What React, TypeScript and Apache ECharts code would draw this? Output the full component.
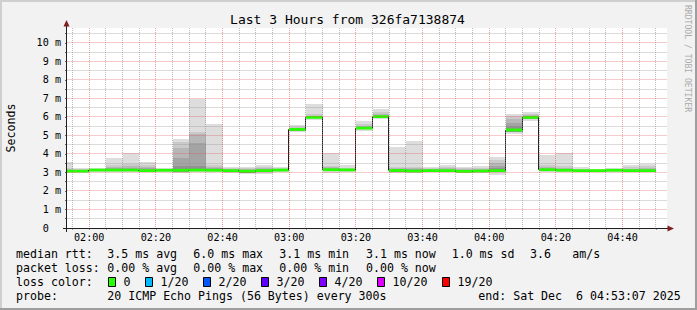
import React, { useEffect, useRef } from "react";
import * as echarts from "echarts";

// ---------- data ----------
const graphStart = "01:53:20";
const graphEnd = "04:53:20";
const stepSeconds = 300;

const intervalStart = [
  "01:50", "01:55", "02:00", "02:05", "02:10", "02:15", "02:20", "02:25", "02:30",
  "02:35", "02:40", "02:45", "02:50", "02:55", "03:00", "03:05", "03:10", "03:15",
  "03:20", "03:25", "03:30", "03:35", "03:40", "03:45", "03:50", "03:55", "04:00",
  "04:05", "04:10", "04:15", "04:20", "04:25", "04:30", "04:35", "04:40", "04:45",
];

// median rtt (ms)
const medianRtt = [
  3.07, 3.07, 3.13, 3.13, 3.13, 3.10, 3.12, 3.12, 3.13, 3.12, 3.10, 3.07,
  3.10, 3.13, 5.33, 5.98, 3.15, 3.14, 5.40, 6.02, 3.11, 3.08, 3.10, 3.10,
  3.06, 3.08, 3.10, 5.30, 5.98, 3.15, 3.12, 3.10, 3.10, 3.12, 3.10, 3.10,
];

// smoke: lowest ping (outer band) and low edge of inner bands
const smokeLowOuter = [
  3.00, 3.00, 3.05, 3.05, 3.05, 3.02, 3.05, 2.97, 3.00, 3.02, 2.96, 2.92,
  2.94, 3.00, 5.19, 5.84, 2.99, 3.02, 5.26, 5.88, 2.98, 2.96, 3.00, 3.00,
  2.97, 2.95, 2.88, 5.10, 5.80, 3.00, 3.00, 3.02, 3.03, 3.04, 3.02, 3.02,
];
const smokeLowInner = [
  3.04, 3.04, 3.10, 3.10, 3.10, 3.07, 3.10, 3.05, 3.10, 3.08, 3.02, 2.98,
  3.02, 3.08, 5.26, 5.92, 3.08, 3.08, 5.33, 5.95, 3.05, 3.02, 3.05, 3.05,
  3.02, 3.02, 3.00, 5.20, 5.90, 3.08, 3.06, 3.06, 3.07, 3.08, 3.06, 3.06,
];
// high edges of the smoke bands, outermost (highest ping) to innermost
const smokeHigh1 = [
  3.55, 3.27, 3.23, 3.76, 4.05, 3.57, 3.25, 4.79, 6.99, 5.60, 3.28, 3.31,
  3.39, 3.28, 5.57, 6.68, 4.03, 3.39, 5.76, 6.43, 4.36, 4.68, 3.31, 3.39,
  3.28, 3.35, 3.84, 6.18, 6.25, 3.96, 4.04, 3.28, 3.20, 3.24, 3.39, 3.46,
];
const smokeHigh2 = [
  3.25, 3.20, 3.20, 3.42, 3.48, 3.43, 3.20, 4.66, 5.17, 3.40, 3.22, 3.25,
  3.32, 3.22, 5.48, 6.16, 3.35, 3.26, 5.62, 6.28, 3.32, 3.32, 3.22, 3.30,
  3.22, 3.26, 3.66, 6.08, 6.18, 3.40, 3.33, 3.20, 3.16, 3.19, 3.28, 3.36,
];
const smokeHigh3 = [
  3.18, 3.15, 3.18, 3.30, 3.36, 3.30, 3.17, 4.30, 5.07, 3.30, 3.18, 3.20,
  3.26, 3.19, 5.42, 6.08, 3.28, 3.21, 5.52, 6.16, 3.25, 3.25, 3.18, 3.22,
  3.18, 3.20, 3.52, 5.90, 6.10, 3.30, 3.24, 3.16, 3.14, 3.16, 3.21, 3.24,
];
const smokeHigh4 = [
  3.13, 3.12, 3.16, 3.22, 3.26, 3.22, 3.15, 3.81, 4.62, 3.22, 3.15, 3.15,
  3.20, 3.16, 5.38, 6.03, 3.22, 3.18, 5.46, 6.09, 3.18, 3.18, 3.15, 3.16,
  3.14, 3.15, 3.36, 5.70, 6.05, 3.22, 3.18, 3.13, 3.12, 3.14, 3.16, 3.17,
];
const smokeHigh5 = [
  3.10, 3.10, 3.15, 3.17, 3.20, 3.16, 3.14, 3.35, 3.37, 3.18, 3.13, 3.11,
  3.15, 3.15, 5.36, 6.01, 3.18, 3.16, 5.43, 6.05, 3.14, 3.12, 3.12, 3.13,
  3.10, 3.11, 3.22, 5.50, 6.01, 3.18, 3.15, 3.12, 3.11, 3.13, 3.12, 3.13,
];

// axes
const xMajorTicks = ["02:00", "02:20", "02:40", "03:00", "03:20", "03:40", "04:00", "04:20", "04:40"];
const xMinorTicks = [
  "01:55", "02:00", "02:05", "02:10", "02:15", "02:20", "02:25", "02:30", "02:35",
  "02:40", "02:45", "02:50", "02:55", "03:00", "03:05", "03:10", "03:15", "03:20",
  "03:25", "03:30", "03:35", "03:40", "03:45", "03:50", "03:55", "04:00", "04:05",
  "04:10", "04:15", "04:20", "04:25", "04:30", "04:35", "04:40", "04:45", "04:50",
];
const yMax = 10.81;
const yLabelValues = [0, 1, 2, 3, 4, 5, 6, 7, 8, 9, 10];
const yGridValues = [
  0.5, 1, 1.5, 2, 2.5, 3, 3.5, 4, 4.5, 5, 5.5, 6, 6.5, 7, 7.5, 8, 8.5, 9, 9.5, 10, 10.5,
];

// texts
const titleText = "Last 3 Hours from 326fa7138874";
const unitText = "Seconds";
const watermarkText = "RRDTOOL / TOBI OETIKER";
const rttLabel = "median rtt:";
const rttItems = ["3.5 ms avg", "6.0 ms max", "3.1 ms min", "3.1 ms now", "1.0 ms sd", "3.6", "am/s"];
const lossLabel = "packet loss:";
const lossItems = ["0.00 % avg", "0.00 % max", "0.00 % min", "0.00 % now"];
const lossColorLabel = "loss color:";
const lossColorNames = ["0", "1/20", "2/20", "3/20", "4/20", "10/20", "19/20"];
const lossColorValues = ["#26ff00", "#00b8ff", "#0059ff", "#5e00ff", "#7e00ff", "#dd00ff", "#ff0000"];
const probeLabel = "probe:";
const probeText = "20 ICMP Echo Pings (56 Bytes) every 300s";
const endText = "end: Sat Dec \u00a06 04:53:07 2025";

// ---------- helpers ----------
const toSec = (s: string) => {
  const p = s.split(":").map(Number);
  return p[0] * 3600 + p[1] * 60 + (p[2] || 0);
};
const pad = (n: number) => (n < 10 ? "0" + n : "" + n);
const fmtTime = (v: number) => pad(Math.floor(v / 3600)) + ":" + pad(Math.floor((v % 3600) / 60));

const MONO = "DejaVu Sans Mono";
const smokeColors = ["#dddddd", "#cacaca", "#b7b7b7", "#a4a4a4", "#919191"];
const minorGridColor = "rgba(143,143,143,0.6)";
const majorGridColor = "rgba(222,79,79,0.55)";
const minorGridSolid = "rgba(143,143,143,0.32)";
const majorGridSolid = "rgba(222,79,79,0.3)";

export default function App() {
  const ref = useRef<HTMLDivElement>(null);

  useEffect(() => {
    if (!ref.current) return;
    const chart = echarts.init(ref.current, null, { renderer: "svg", width: 697, height: 310 });

    const x0Sec = toSec(graphStart);
    const x1Sec = toSec(graphEnd);
    const smokeData = intervalStart.map((s, i) => [
      toSec(s), toSec(s) + stepSeconds, smokeLowOuter[i], smokeLowInner[i],
      smokeHigh1[i], smokeHigh2[i], smokeHigh3[i], smokeHigh4[i], smokeHigh5[i],
    ]);
    const medianData = intervalStart.map((s, i) => [
      toSec(s), toSec(s) + stepSeconds, medianRtt[i], i > 0 ? medianRtt[i - 1] : medianRtt[i],
    ]);
    const majorSet = new Set(xMajorTicks.map(toSec));
    const yMajorSet = new Set(yLabelValues);
    const vGridData = xMinorTicks.map((t) => [toSec(t), 1]);
    const hGridData = yGridValues.map((v) => [x0Sec + 600, v]);

    const rowY = [254.3, 268.3, 282.3, 296.3];
    const legendX = [107.3, 193.3, 279.3, 366, 451.7, 530, 572.3];
    const boxX = [108.5, 145.5, 203.5, 261.5, 319.5, 377.5, 442.5];
    const txt = (text: string, x: number, y: number, size = 11.6, extra: any = {}) => ({
      type: "text",
      x, y, z: 100,
      style: { text, fontFamily: MONO, fontSize: size, fill: "#000", align: "left", verticalAlign: "middle", ...extra },
    });

    const graphics: any[] = [
      { type: "rect", z: 100, shape: { x: 0, y: 0, width: 697, height: 2 }, style: { fill: "#cfcfcf" } },
      { type: "rect", z: 100, shape: { x: 0, y: 0, width: 2, height: 310 }, style: { fill: "#cfcfcf" } },
      { type: "rect", z: 100, shape: { x: 0, y: 308, width: 697, height: 2 }, style: { fill: "#9e9e9e" } },
      { type: "rect", z: 100, shape: { x: 695, y: 0, width: 2, height: 310 }, style: { fill: "#9e9e9e" } },
      { type: "line", z: 100, shape: { x1: 63, y1: 228.5, x2: 670, y2: 228.5 }, style: { stroke: "#1f1f1f", lineWidth: 1 } },
      { type: "line", z: 100, shape: { x1: 66.5, y1: 232, x2: 66.5, y2: 24 }, style: { stroke: "#1f1f1f", lineWidth: 1 } },
      { type: "polygon", z: 101, shape: { points: [[66.5, 20], [63.5, 26.5], [69.5, 26.5]] }, style: { fill: "#801f1f" } },
      { type: "polygon", z: 101, shape: { points: [[674, 228.5], [667.5, 225.5], [667.5, 231.5]] }, style: { fill: "#801f1f" } },
      txt(titleText, 347.5, 19.5, 13, { align: "center" }),
      { type: "text", z: 100, x: 11, y: 128, rotation: Math.PI / 2,
        style: { text: unitText, fontFamily: MONO, fontSize: 11.6, fill: "#000", align: "center", verticalAlign: "middle" } },
      { type: "text", z: 100, x: 688, y: 58.5, rotation: -Math.PI / 2,
        style: { text: watermarkText, fontFamily: MONO, fontSize: 8.1, fill: "#ababab", align: "center", verticalAlign: "middle" } },
      txt(rttLabel, 16, rowY[0]),
      ...rttItems.map((t, i) => txt(t, legendX[i], rowY[0])),
      txt(lossLabel, 16, rowY[1]),
      ...lossItems.map((t, i) => txt(t, legendX[i], rowY[1])),
      txt(lossColorLabel, 16, rowY[2]),
      ...lossColorNames.map((t, i) => txt(t, boxX[i] + 15, rowY[2])),
      ...lossColorValues.map((c, i) => ({
        type: "rect", z: 100,
        shape: { x: boxX[i], y: rowY[2] - 4.8, width: 7, height: 9 },
        style: { fill: c, stroke: "#000", lineWidth: 1 },
      })),
      txt(probeLabel, 16, rowY[3]),
      txt(probeText, legendX[0], rowY[3]),
      txt(endText, 478.3, rowY[3]),
    ];

    const option: any = {
      animation: false,
      backgroundColor: "#f2f2f2",
      grid: { left: 67, top: 28, width: 600, height: 200, show: true, backgroundColor: "#ffffff", borderWidth: 0 },
      xAxis: {
        type: "value",
        min: x0Sec,
        max: x1Sec,
        axisLine: { show: false },
        splitLine: { show: false },
        axisTick: { show: true, customValues: xMinorTicks.map(toSec), length: 2, lineStyle: { color: "#9a9a9a" } },
        axisLabel: {
          customValues: xMajorTicks.map(toSec),
          formatter: (v: number) => fmtTime(v),
          fontFamily: MONO, fontSize: 10.15, color: "#000", margin: 4,
        },
      },
      yAxis: {
        type: "value",
        min: 0,
        max: yMax,
        axisLine: { show: false },
        splitLine: { show: false },
        axisTick: { show: true, customValues: yGridValues, length: 2, lineStyle: { color: "#666" } },
        axisLabel: {
          customValues: yLabelValues,
          formatter: (v: number) => (v === 0 ? "0\u00a0\u00a0" : v + " m"),
          fontFamily: MONO, fontSize: 10.15, color: "#000", margin: 6,
        },
      },
      series: [
        {
          type: "custom",
          name: "smoke",
          z: 2,
          clip: true,
          data: smokeData,
          encode: { x: [0, 1], y: [2, 4] },
          renderItem: (params: any, api: any) => {
            const t0 = api.value(0), t1 = api.value(1);
            const loOuter = api.value(2), loInner = api.value(3);
            const children: any[] = [];
            for (let k = 0; k < 5; k++) {
              const hi = api.value(4 + k);
              const lo = k === 0 ? loOuter : loInner;
              const a = api.coord([t0, hi]);
              const b = api.coord([t1, lo]);
              const x0 = Math.round(a[0]), x1 = Math.round(b[0]);
              const y0 = Math.round(a[1]), y1 = Math.round(b[1]);
              children.push({
                type: "rect",
                shape: { x: x0, y: y0, width: x1 - x0, height: Math.max(0, y1 - y0) },
                style: { fill: smokeColors[k] },
              });
            }
            return { type: "group", children };
          },
        },
        {
          type: "custom",
          name: "median",
          z: 3,
          clip: true,
          data: medianData,
          encode: { x: [0, 1], y: [2] },
          renderItem: (params: any, api: any) => {
            const t0 = api.value(0), t1 = api.value(1);
            const med = api.value(2), prev = api.value(3);
            const a = api.coord([t0, med]);
            const b = api.coord([t1, med]);
            const p = api.coord([t0, prev]);
            const x0 = Math.round(a[0]), x1 = Math.round(b[0]);
            const children: any[] = [];
            if (Math.abs(prev - med) > 0.001) {
              children.push({
                type: "line",
                shape: { x1: x0 - 0.5, y1: p[1], x2: x0 - 0.5, y2: a[1] },
                style: { stroke: "#202020", lineWidth: 1 },
              });
            }
            children.push({
              type: "rect",
              shape: { x: x0, y: a[1] - 1.4, width: x1 - x0, height: 2.8 },
              style: { fill: lossColorValues[0] },
            });
            return { type: "group", children };
          },
        },
        {
          type: "custom",
          name: "vgrid",
          z: 4,
          silent: true,
          data: vGridData,
          encode: { x: 0, y: 1 },
          renderItem: (params: any, api: any) => {
            const xv = api.value(0);
            const cs = params.coordSys;
            const pt = api.coord([xv, 1]);
            const x = Math.floor(pt[0]) + 0.5;
            return {
              type: "line",
              shape: { x1: x, y1: cs.y, x2: x, y2: cs.y + cs.height },
              style: { stroke: majorSet.has(xv) ? majorGridColor : minorGridColor, lineWidth: 1, lineDash: [1, 1] },
            };
          },
        },
        {
          type: "custom",
          name: "hgrid",
          z: 4,
          silent: true,
          data: hGridData,
          encode: { x: 0, y: 1 },
          renderItem: (params: any, api: any) => {
            const yv = api.value(1);
            const cs = params.coordSys;
            const pt = api.coord([x0Sec + 600, yv]);
            const y = Math.floor(pt[1]);
            return {
              type: "rect",
              shape: { x: cs.x, y: y, width: cs.width, height: 1 },
              style: { fill: yMajorSet.has(yv) ? majorGridSolid : minorGridSolid },
            };
          },
        },
      ],
      graphic: graphics,
    };

    chart.setOption(option);
    return () => chart.dispose();
  }, []);

  return <div ref={ref} style={{ position: "absolute", left: 0, top: 0, width: 697, height: 310 }} />;
}
